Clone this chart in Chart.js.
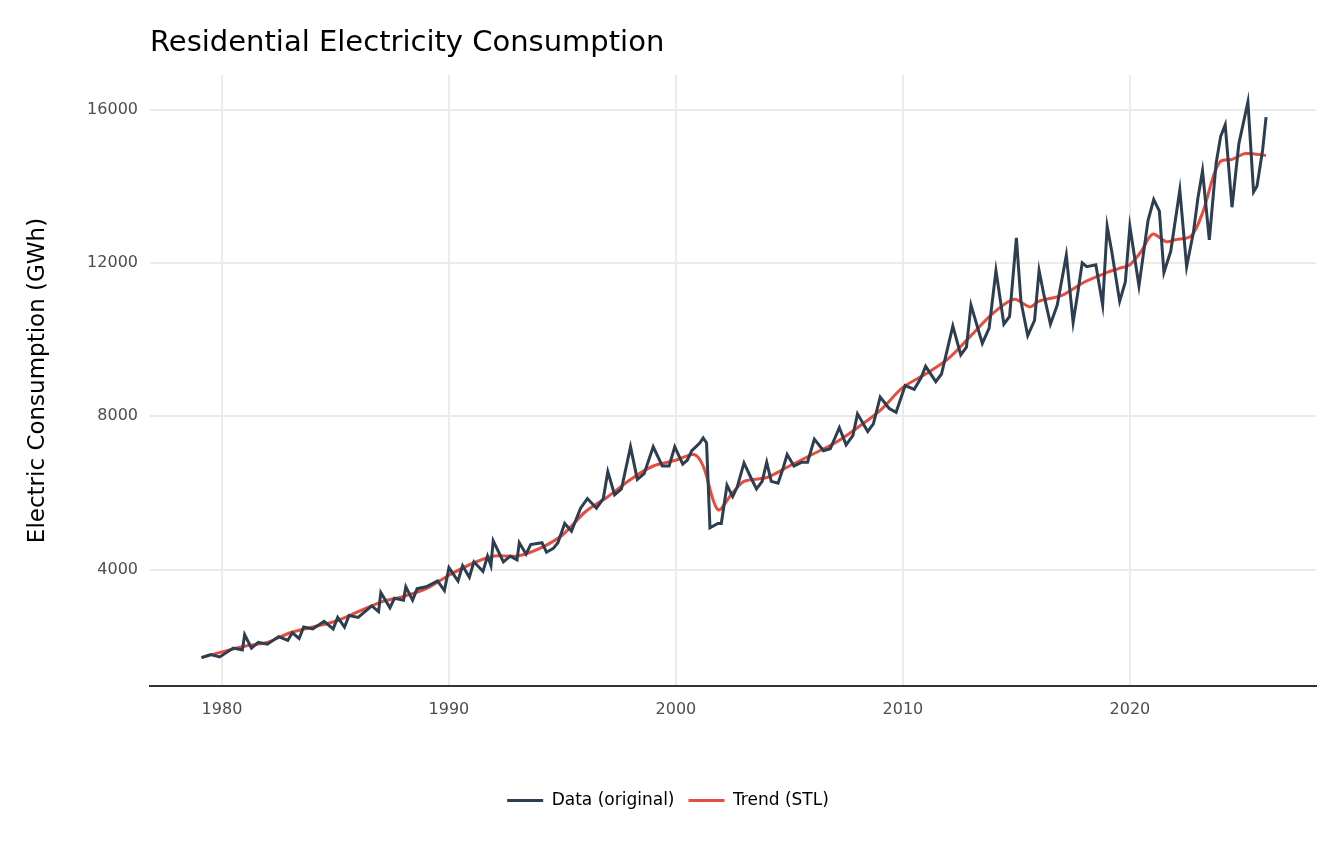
<!DOCTYPE html>
<html>
<head>
<meta charset="utf-8">
<script src="https://cdn.jsdelivr.net/npm/chart.js@4.4.0/dist/chart.umd.min.js"></script>
<style>
  body { margin: 0; background: #fff; font-family: "DejaVu Sans", sans-serif; }
  #wrap { position: relative; width: 1344px; height: 864px; }
  h1 { position: absolute; left: 150px; top: 24px; margin: 0; font-weight: normal; font-size: 29px; color: #000; }
</style>
</head>
<body>
<div id="wrap">
  <h1>Residential Electricity Consumption</h1>
  <canvas id="c" width="1344" height="864"></canvas>
</div>
<script>
// Monthly series (key points, GWh)
const dataYears = [
  1979.1,1979.5,1979.9,1980.5,1980.9,1981.0,1981.3,1981.6,1982.0,1982.5,1982.9,1983.1,1983.4,1983.6,1984.0,1984.5,
  1984.9,1985.1,1985.4,1985.6,1986.0,1986.6,1986.9,1987.0,1987.4,1987.6,1988.0,1988.1,1988.4,1988.6,1989.0,1989.5,
  1989.8,1990.0,1990.4,1990.6,1990.9,1991.1,1991.5,1991.7,1991.85,1991.95,1992.4,1992.7,1993.0,1993.1,1993.4,1993.6,
  1994.1,1994.3,1994.6,1994.8,1995.1,1995.4,1995.8,1996.1,1996.5,1996.8,1997.0,1997.3,1997.6,1998.0,1998.3,1998.6,
  1999.0,1999.4,1999.7,1999.95,2000.3,2000.5,2000.7,2001.05,2001.2,2001.35,2001.5,2001.85,2002.0,2002.25,2002.5,
  2002.7,2003.0,2003.3,2003.55,2003.8,2004.0,2004.2,2004.5,2004.7,2004.9,2005.2,2005.55,2005.8,2006.1,2006.5,2006.8,
  2007.2,2007.5,2007.8,2008.0,2008.45,2008.7,2009.0,2009.4,2009.7,2010.1,2010.5,2010.8,2011.0,2011.45,2011.7,2012.2,
  2012.55,2012.8,2013.0,2013.5,2013.8,2014.1,2014.45,2014.7,2015.0,2015.2,2015.5,2015.8,2016.0,2016.2,2016.5,2016.8,
  2017.2,2017.5,2017.7,2017.9,2018.1,2018.5,2018.8,2019.0,2019.2,2019.55,2019.8,2020.0,2020.4,2020.8,2021.05,2021.3,
  2021.5,2021.8,2022.2,2022.5,2022.8,2023.0,2023.2,2023.5,2023.8,2024.0,2024.2,2024.5,2024.8,2025.2,2025.45,2025.6,
  2025.85,2026.0
];
const dataValues = [
  1700,1780,1720,1950,1900,2300,1950,2100,2050,2250,2150,2350,2200,2500,2450,2650,
  2450,2750,2500,2800,2750,3050,2900,3400,3000,3250,3200,3550,3200,3500,3550,3700,
  3450,4050,3700,4100,3800,4200,3950,4350,4100,4750,4200,4350,4250,4700,4400,4650,
  4700,4450,4550,4700,5200,5000,5600,5850,5600,5850,6550,5950,6100,7200,6350,6500,
  7200,6700,6700,7200,6750,6850,7100,7300,7430,7300,5090,5200,5200,6200,5900,
  6150,6780,6400,6100,6300,6800,6300,6250,6600,7000,6700,6800,6800,7400,7100,7150,
  7700,7250,7500,8060,7600,7800,8500,8200,8100,8800,8700,9000,9300,8900,9100,10350,
  9600,9800,10900,9900,10300,11800,10400,10600,12650,11000,10100,10500,11800,11200,10400,10900,
  12200,10450,11200,12000,11900,11950,10900,12950,12300,11000,11500,12950,11400,13100,13650,13350,
  11750,12300,13900,11900,12800,13700,14400,12600,14600,15300,15600,13450,15100,16200,13850,14000,
  14950,15800
];
// Trend (STL)
const trendYears = [
  1979.1,1980,1981,1982,1983,1984,1985,1986,1987,1988,1989,1990,1991,1992,1993,1994,1995,1996,1997,1998,
  1999,2000,2000.8,2001.2,2001.85,2002.5,2003,2004,2005,2006,2007,2008,2009,2010,2011,2012,2013,2014,
  2014.9,2015.6,2016,2017,2018,2019,2019.5,2020,2020.5,2021,2021.6,2022,2022.7,2023.2,2023.7,2024,2024.5,2025.1,2026
];
const trendValues = [
  1700,1850,2000,2100,2350,2500,2650,2900,3150,3300,3500,3850,4150,4350,4350,4550,4900,5500,5900,6350,
  6700,6850,7000,6700,5560,6000,6300,6400,6700,7000,7300,7700,8150,8750,9100,9500,10100,10700,
  11050,10850,11000,11150,11500,11750,11850,11950,12300,12750,12550,12600,12700,13300,14300,14650,14700,14850,14800
];
const xTicks = [1980, 1990, 2000, 2010, 2020];
const yTicks = [4000, 8000, 12000, 16000];

const pts = (xs, ys) => xs.map((x, i) => ({ x, y: ys[i] }));

new Chart(document.getElementById('c'), {
  type: 'scatter',
  data: {
    datasets: [
      { label: 'Data (original)', data: pts(dataYears, dataValues), showLine: true,
        borderColor: '#2c3e50', backgroundColor: '#2c3e50', borderWidth: 3, pointRadius: 0 },
      { label: 'Trend (STL)', data: pts(trendYears, trendValues), showLine: true, tension: 0.3,
        borderColor: '#e74c3c', backgroundColor: '#e74c3c', borderWidth: 3, pointRadius: 0 },
    ],
  },
  options: {
    responsive: false,
    animation: false,
    layout: { padding: { left: 20, right: 28, top: 75, bottom: 45 } },
    plugins: {
      tooltip: { enabled: false },
      legend: {
        position: 'bottom',
        labels: { usePointStyle: true, pointStyle: 'line', pointStyleWidth: 36, boxHeight: 3,
                  color: '#000', font: { family: 'DejaVu Sans', size: 17 }, padding: 14 },
      },
    },
    scales: {
      x: {
        type: 'linear', min: 1976.83, max: 2028.2,
        afterBuildTicks: ax => { ax.ticks = xTicks.map(v => ({ value: v })); },
        afterFit: ax => { ax.height = 92; },
        ticks: { color: '#4d4d4d', font: { family: 'DejaVu Sans', size: 16 }, padding: 14, callback: v => String(v) },
        grid: { color: '#ebebeb', lineWidth: 2, drawTicks: false },
        border: { display: true, color: '#333', width: 2 },
      },
      y: {
        min: 961, max: 16900,
        afterBuildTicks: ax => { ax.ticks = yTicks.map(v => ({ value: v })); },
        afterFit: ax => { ax.width = 130; },
        title: { display: true, text: 'Electric Consumption (GWh)', color: '#000',
                 font: { family: 'DejaVu Sans', size: 23 } },
        ticks: { color: '#4d4d4d', font: { family: 'DejaVu Sans', size: 16 }, padding: 12, callback: v => String(v) },
        grid: { color: '#ebebeb', lineWidth: 2, drawTicks: false },
        border: { display: false },
      },
    },
  },
});
</script>
</body>
</html>
